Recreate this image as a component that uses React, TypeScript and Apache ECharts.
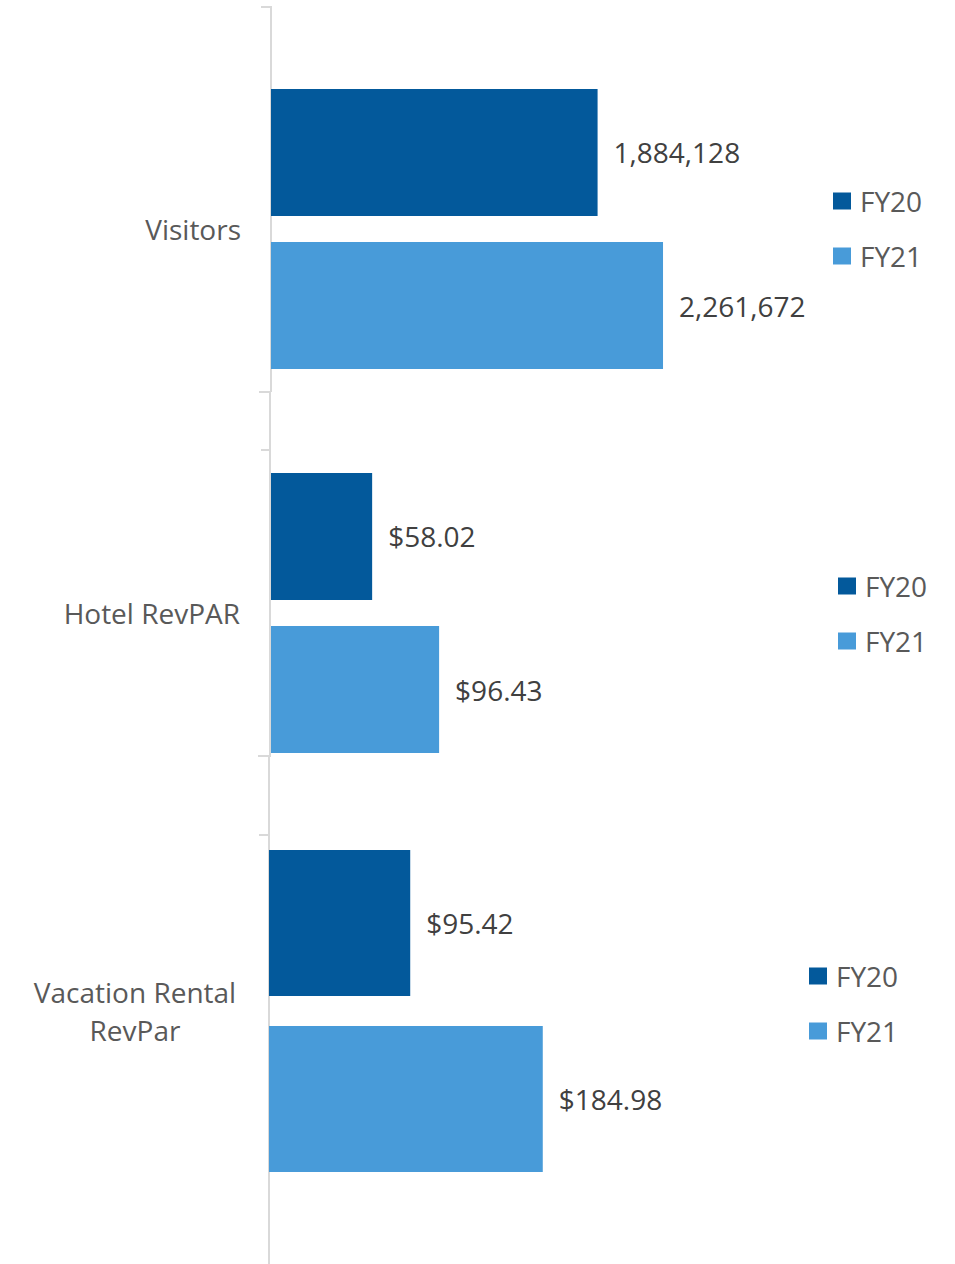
import React, { useEffect, useRef } from "react";
import * as echarts from "echarts";

const seriesNames = ["FY20", "FY21"];
const panelCategories = ["Visitors", "Hotel RevPAR", "Vacation Rental\nRevPar"];
const visitorsValues = [1884128, 2261672];
const hotelRevparValues = [58.02, 96.43];
const vacationRevparValues = [95.42, 184.98];
const panelMax = [3000000, 300, 350];

const DARK = "#03599B";
const LIGHT = "#489BD9";
const FONT = "'Open Sans', 'Noto Sans', sans-serif";

export default function App() {
  const ref = useRef<HTMLDivElement>(null);
  useEffect(() => {
    if (!ref.current) return;
    const chart = echarts.init(ref.current, null, { renderer: "svg" });
    const panelValues = [visitorsValues, hotelRevparValues, vacationRevparValues];
    const grids = [
      { left: 271, top: 8, width: 520, height: 442 },
      { left: 271, top: 450, width: 523, height: 326 },
      { left: 269, top: 835, width: 518, height: 352 },
    ];
    const barW = [127, 127, 146];
    const fmt = [
      (v: number) => v.toLocaleString("en-US"),
      (v: number) => "$" + v.toFixed(2),
      (v: number) => "$" + v.toFixed(2),
    ];
    const labelMargin = [30, 31, 134];
    const labelAlign = ["right", "right", "center"];
    const legendPos = [
      { left: 833, top: 187 },
      { left: 838, top: 572 },
      { left: 809, top: 962 },
    ];
    const series: any[] = [];
    panelValues.forEach((vals, p) => {
      vals.forEach((v, s) => {
        series.push({
          type: "bar",
          name: seriesNames[s],
          xAxisIndex: p,
          yAxisIndex: p,
          data: [v],
          barWidth: barW[p],
          barGap: "20.5%",
          itemStyle: { color: s === 0 ? DARK : LIGHT },
          label: {
            show: true,
            position: "right",
            distance: 16,
            fontSize: 28,
            fontFamily: FONT,
            color: "#404040",
            formatter: (pr: any) => fmt[p](pr.value),
          },
        });
      });
    });
    const axisColor = "#D9D9D9";
    const vline = (x: number, y1: number, y2: number) => ({
      type: "line",
      shape: { x1: x, y1, x2: x, y2 },
      style: { stroke: axisColor, lineWidth: 2 },
      silent: true,
    });
    const hline = (y: number, x1: number, x2: number) => ({
      type: "line",
      shape: { x1, y1: y, x2, y2: y },
      style: { stroke: axisColor, lineWidth: 2 },
      silent: true,
    });
    chart.setOption({
      animation: false,
      grid: grids,
      xAxis: grids.map((_, i) => ({
        type: "value",
        gridIndex: i,
        min: 0,
        max: panelMax[i],
        show: false,
      })),
      yAxis: grids.map((_, i) => ({
        type: "category",
        gridIndex: i,
        data: [panelCategories[i]],
        inverse: true,
        axisLine: { show: false },
        axisTick: { show: false },
        axisLabel: {
          fontSize: 28,
          fontFamily: FONT,
          color: "#595959",
          margin: labelMargin[i],
          align: labelAlign[i],
          lineHeight: 38,
        },
      })),
      legend: legendPos.map((pos) => ({
        data: seriesNames,
        orient: "vertical",
        left: pos.left,
        top: pos.top,
        padding: 0,
        icon: "rect",
        itemWidth: 18,
        itemHeight: 17,
        itemGap: 27,
        textStyle: {
          fontSize: 28,
          fontFamily: FONT,
          color: "#595959",
          lineHeight: 20,
          padding: [0, 0, 0, 4],
        },
        selectedMode: false,
      })),
      graphic: [
        vline(271, 7, 392),
        vline(270, 392, 757),
        vline(269, 757, 1264),
        hline(7, 261, 272),
        hline(392, 259, 271),
        hline(450, 261, 271),
        hline(756, 258, 270),
        hline(835, 259, 269),
      ],
      series,
    });
    return () => chart.dispose();
  }, []);
  return (
    <div
      ref={ref}
      style={{ position: "fixed", left: 0, top: 0, width: 955, height: 1264, background: "#fff" }}
    />
  );
}
